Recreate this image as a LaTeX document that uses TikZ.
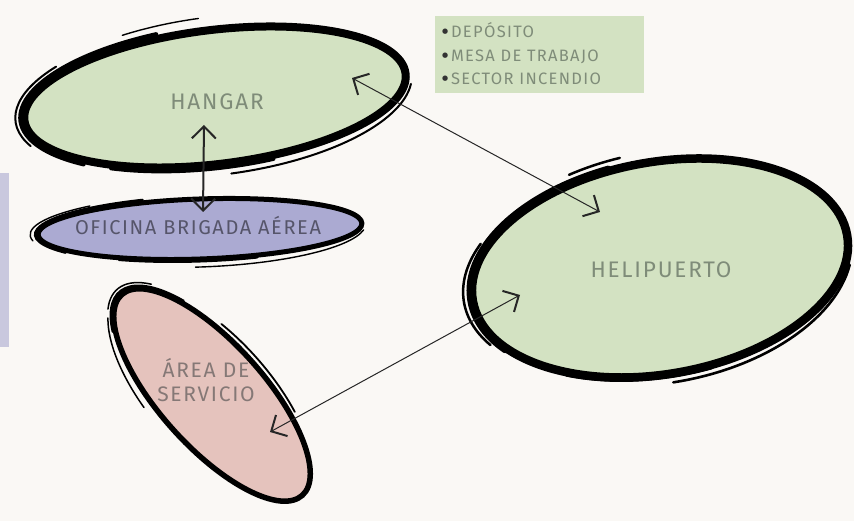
\documentclass[tikz,border=0pt]{standalone}
\usepackage{fontspec}
\setmainfont{Fira Sans}[LetterSpace=8]
\newfontfamily\dvfont{DejaVu Sans}
\usetikzlibrary{shapes.geometric,arrows.meta,calc}
\definecolor{bg}{HTML}{FAF8F5}
\definecolor{lav}{HTML}{C9C8DE}
\definecolor{grn}{HTML}{D3E2C2}
\definecolor{blu}{HTML}{ABAAD2}
\definecolor{pnk}{HTML}{E5C3BD}
\definecolor{txg}{HTML}{7F8C79}
\definecolor{txb}{HTML}{56556A}
\definecolor{txp}{HTML}{857876}
\newcommand{\bul}{\raisebox{4pt}{\textcolor{black!80}{\dvfont\fontsize{7}{7}\selectfont ●}}\,}
\tikzset{
  blob/.style={ellipse, draw=black, line width=8pt, inner sep=0pt},
  sk/.style={draw=black, line cap=round},
  lbl/.style={font=\fontsize{22.5}{25}\selectfont, align=center},
  conn/.style={draw=black!85, line width=1pt,
     {Straight Barb[length=12pt,width=24pt,line width=2pt]}-{Straight Barb[length=12pt,width=24pt,line width=2pt]}},
}
\begin{document}
\begin{tikzpicture}[x=1pt,y=1pt]
\fill[bg] (0,0) rectangle (854,521);
\useasboundingbox (0,0) rectangle (854,521);
\fill[lav] (0,174) rectangle (9,348);

% HANGAR
\node[blob, fill=grn, minimum width=384pt, minimum height=134pt, rotate=7] (hangar) at (215,424) {};
\begin{scope}[shift={(215,424)},rotate=7]
  \draw[sk, line width=4pt] (105:196 and 72) arc[start angle=105,end angle=225,x radius=196,y radius=72];
  \draw[sk, line width=2pt] (140:201 and 77) arc[start angle=140,end angle=200,x radius=201,y radius=77];
  \draw[sk, line width=1.4pt] (92:200 and 80) arc[start angle=92,end angle=115,x radius=200,y radius=80];
  \draw[sk, line width=4pt] (235:195 and 71) arc[start angle=235,end angle=285,x radius=195,y radius=71];
  \draw[sk, line width=2pt] (272:198 and 78) arc[start angle=272,end angle=352,x radius=198,y radius=78];
\end{scope}
\node[lbl, text=txg] (hangartext) at (217,419) {HANGAR};

% OFICINA
\node[blob, fill=blu, minimum width=324pt, minimum height=60pt, rotate=2, line width=5pt] (oficina) at (200,292) {};
\begin{scope}[shift={(200,292)},rotate=2]
  \draw[sk, line width=2.5pt] (110:165 and 33) arc[start angle=110,end angle=215,x radius=165,y radius=33];
  \draw[sk, line width=1.4pt] (130:170 and 35) arc[start angle=130,end angle=190,x radius=170,y radius=35];
  \draw[sk, line width=3pt] (240:164 and 32) arc[start angle=240,end angle=290,x radius=164,y radius=32];
  \draw[sk, line width=1.4pt] (268:166 and 38) arc[start angle=268,end angle=350,x radius=166,y radius=38];
\end{scope}
\node[lbl, text=txb, font=\fontsize{20}{24}\selectfont] (oficinatext) at (198,295) {OFICINA BRIGADA AÉREA};

% AREA DE SERVICIO
\node[blob, fill=pnk, minimum width=270pt, minimum height=104pt, rotate=-48, line width=5.5pt] (area) at (212,126) {};
\begin{scope}[shift={(212,126)},rotate=-48]
  \draw[sk, line width=3.5pt] (130:138 and 54) arc[start angle=130,end angle=215,x radius=138,y radius=54];
  \draw[sk, line width=1.5pt] (150:142 and 58) arc[start angle=150,end angle=200,x radius=142,y radius=58];
  \draw[sk, line width=1.8pt] (60:136 and 58) arc[start angle=60,end angle=110,x radius=136,y radius=58];
  \draw[sk, line width=1.5pt] (205:140 and 61) arc[start angle=205,end angle=255,x radius=140,y radius=61];
\end{scope}
\node[lbl, text=txp, font=\fontsize{21}{24}\selectfont] (areatext) at (206,141) {ÁREA DE\\SERVICIO};

% HELIPUERTO
\node[blob, fill=grn, minimum width=380pt, minimum height=212pt, rotate=10, line width=8.5pt] (heli) at (660,253) {};
\begin{scope}[shift={(660,253)},rotate=10]
  \draw[sk, line width=5pt] (100:193 and 109) arc[start angle=100,end angle=210,x radius=193,y radius=109];
  \draw[sk, line width=2.5pt] (150:199 and 110) arc[start angle=150,end angle=205,x radius=199,y radius=110];
  \draw[sk, line width=2.5pt] (96:196 and 116) arc[start angle=96,end angle=112,x radius=196,y radius=116];
  \draw[sk, line width=5pt] (235:192 and 108) arc[start angle=235,end angle=280,x radius=192,y radius=108];
  \draw[sk, line width=2.6pt] (268:194 and 115) arc[start angle=268,end angle=345,x radius=194,y radius=115];
\end{scope}
\node[lbl, text=txg] (helitext) at (661,251) {HELIPUERTO};

% BOX
\node[fill=grn, minimum width=209pt, minimum height=77pt, inner sep=0pt] (box) at (539.5,466.5) {};
\node[anchor=west, align=left, text=txg, font=\fontsize{16.5}{23.5}\selectfont, inner sep=0pt] (boxtext) at (442,467)
  {\bul DEPÓSITO\\\bul MESA DE TRABAJO\\\bul SECTOR INCENDIO};

% connectors
\coordinate (h1) at (204,396);
\coordinate (o1) at (203,309);
\coordinate (h2) at (352,443);
\coordinate (p2) at (600,309);
\coordinate (p3) at (520,226);
\coordinate (a3) at (270,89);
\draw[conn, line width=2pt] (h1) -- (o1);
\draw[conn] (h2) -- (p2);
\draw[conn] (p3) -- (a3);
\end{tikzpicture}
\end{document}
